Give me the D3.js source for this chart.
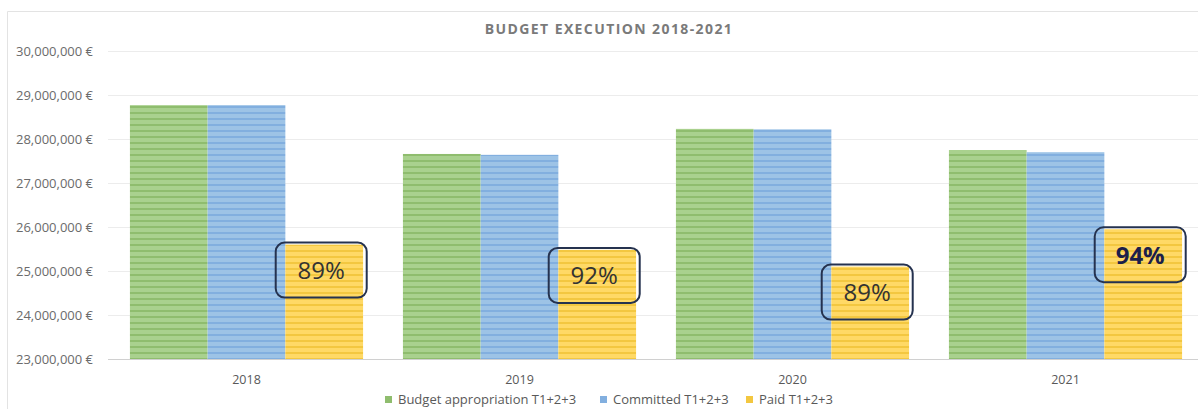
<!DOCTYPE html>
<meta charset="utf-8">
<script src="https://d3js.org/d3.v7.min.js"></script>
<style>
  body { margin: 0; background: #fff; }
  text { font-family: "Open Sans", "Noto Sans", sans-serif; }
</style>
<div id="chart"></div>
<script>
// data
var years = ["2018", "2019", "2020", "2021"];
var budget = [28770000, 27660000, 28230000, 27750000];
var committed = [28770000, 27640000, 28220000, 27700000];
var paid = [25600000, 25480000, 25100000, 25950000];
var rates = ["89%", "92%", "89%", "94%"];
var seriesNames = ["Budget appropriation T1+2+3", "Committed T1+2+3", "Paid T1+2+3"];
var yTicks = [23000000, 24000000, 25000000, 26000000, 27000000, 28000000, 29000000, 30000000];

var colors = [
  {base: "#a9d18e", stripe: "#8fbd6e"},
  {base: "#9dc3e6", stripe: "#82afdf"},
  {base: "#ffd966", stripe: "#f3c740"}
];

var W = 1198, H = 409;
var svg = d3.select("#chart").append("svg")
  .attr("width", W).attr("height", H);

// stripe patterns
var defs = svg.append("defs");
colors.forEach(function(c, i) {
  var p = defs.append("pattern")
    .attr("id", "stripe" + i)
    .attr("patternUnits", "userSpaceOnUse")
    .attr("width", 6).attr("height", 6);
  p.append("rect").attr("width", 6).attr("height", 6).attr("fill", c.base);
  p.append("rect").attr("y", 4).attr("width", 6).attr("height", 2).attr("fill", c.stripe);
});

// chart frame
svg.append("path")
  .attr("d", "M7.5," + H + "V11.5H" + W)
  .attr("fill", "none").attr("stroke", "#e3e3e3");

svg.append("text")
  .attr("x", 609).attr("y", 34)
  .attr("text-anchor", "middle")
  .attr("font-size", 14).attr("font-weight", "bold")
  .attr("letter-spacing", 1.4)
  .attr("fill", "#7a7a7a")
  .text("BUDGET EXECUTION 2018-2021");

var x = d3.scaleBand().domain(years).range([110, 1202]).paddingInner(0.146).paddingOuter(0.073);
var xs = d3.scaleBand().domain([0, 1, 2]).range([0, x.bandwidth()]);
var y = d3.scaleLinear().domain([23000000, 30000000]).range([359, 51]);

var fmt = function(d) { return d3.format(",")(d) + " \u20ac"; };

// gridlines + y labels
var yAxis = svg.append("g")
  .attr("transform", "translate(108,0)")
  .call(d3.axisLeft(y).tickValues(yTicks).tickSize(-(W - 108)).tickFormat(fmt).tickPadding(15));
yAxis.select(".domain").remove();
yAxis.selectAll(".tick line").attr("stroke", function(d) { return d === 23000000 ? "#d0d0d0" : "#ececec"; });
yAxis.selectAll(".tick text").attr("fill", "#6b6b6b").attr("font-size", 13)
  .attr("font-family", "'Open Sans', sans-serif");

// x axis labels
var xAxis = svg.append("g")
  .attr("transform", "translate(0,359)")
  .call(d3.axisBottom(x).tickSize(0).tickPadding(16));
xAxis.select(".domain").remove();
xAxis.selectAll(".tick text").attr("fill", "#595959").attr("font-size", 12.5)
  .attr("font-family", "'Open Sans', sans-serif");

// bars
var series = [budget, committed, paid];
series.forEach(function(vals, si) {
  svg.append("g").selectAll("rect")
    .data(vals)
    .enter().append("rect")
      .attr("x", function(d, i) { return x(years[i]) + xs(si); })
      .attr("y", function(d) { return y(d); })
      .attr("width", xs.bandwidth())
      .attr("height", function(d) { return y(23000000) - y(d); })
      .attr("fill", "url(#stripe" + si + ")");
});

// percentage label boxes
var boxW = 91, boxH = 55;
var lab = svg.append("g").selectAll("g")
  .data(paid)
  .enter().append("g")
    .attr("transform", function(d, i) {
      var cx = x(years[i]) + xs(2) + xs.bandwidth() / 2 - 3;
      return "translate(" + (cx - boxW / 2) + "," + (y(d) - 2) + ")";
    });
lab.append("rect")
  .attr("width", boxW).attr("height", boxH)
  .attr("rx", 9)
  .attr("fill", "none")
  .attr("stroke", "#25324f")
  .attr("stroke-width", 2);
lab.append("text")
  .attr("x", boxW / 2).attr("y", boxH / 2 + 9)
  .attr("text-anchor", "middle")
  .attr("font-size", 24)
  .attr("font-family", "'Open Sans', sans-serif")
  .attr("font-weight", function(d, i) { return i === 3 ? "bold" : "normal"; })
  .attr("fill", function(d, i) { return i === 3 ? "#1c1f4a" : "#333"; })
  .text(function(d, i) { return rates[i]; });

// legend
var legX = [385, 600, 746];
var leg = svg.append("g").selectAll("g")
  .data(seriesNames)
  .enter().append("g")
    .attr("transform", function(d, i) { return "translate(" + legX[i] + ",396)"; });
leg.append("rect").attr("width", 7).attr("height", 7)
  .attr("fill", function(d, i) { return colors[i].stripe; });
leg.append("text").attr("x", 13).attr("y", 8)
  .attr("font-size", 13).attr("fill", "#595959")
  .text(function(d) { return d; });
</script>
